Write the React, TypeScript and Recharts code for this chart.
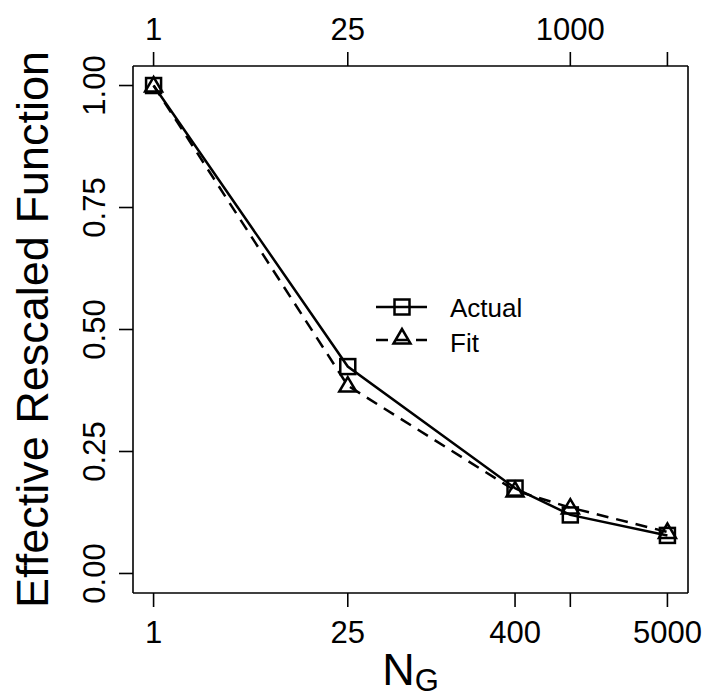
import React from 'react';
import { LineChart, Line, XAxis, YAxis, Legend } from 'recharts';

const nG = [1, 25, 400, 1000, 5000];
const actual = [1.0, 0.424, 0.175, 0.12, 0.078];
const fit = [1.0, 0.385, 0.17, 0.135, 0.085];

const bottomTicks = [1, 25, 400, 1000, 5000];
const bottomLabels = ['1', '25', '400', '', '5000'];
const topTicks = [1, 25, 1000, 5000];
const topLabels = ['1', '25', '1000', ''];
const yTicks = [0, 0.25, 0.5, 0.75, 1];
const yLabels = ['0.00', '0.25', '0.50', '0.75', '1.00'];

const xDomain = [0.711, 7032];
const yDomain = [-0.04, 1.04];

const data = nG.map((n, i) => ({ n, actual: actual[i], fit: fit[i] }));

const FONT = '"Liberation Sans", Arial, Helvetica, sans-serif';
const TICK_FS = 31;
const AXIS_W = 1.6;

const BottomTick = (props: any) => {
  const { x, y, payload } = props;
  const i = bottomTicks.indexOf(payload.value);
  const label = i >= 0 ? bottomLabels[i] : '';
  return (
    <text x={x} y={y + 34} textAnchor="middle" fontFamily={FONT} fontSize={TICK_FS} fill="#000">
      {label}
    </text>
  );
};

const TopTick = (props: any) => {
  const { x, y, payload } = props;
  const i = topTicks.indexOf(payload.value);
  const label = i >= 0 ? topLabels[i] : '';
  return (
    <text x={x} y={y - 10} textAnchor="middle" fontFamily={FONT} fontSize={TICK_FS} fill="#000">
      {label}
    </text>
  );
};

const LeftTick = (props: any) => {
  const { x, y, payload } = props;
  const i = yTicks.indexOf(payload.value);
  const label = i >= 0 ? yLabels[i] : '';
  return (
    <text
      x={0}
      y={0}
      transform={`translate(${x - 12},${y}) rotate(-90)`}
      textAnchor="middle"
      fontFamily={FONT}
      fontSize={TICK_FS}
      fill="#000"
    >
      {label}
    </text>
  );
};

const YTitle = (props: any) => {
  const vb = props.viewBox;
  const cx = vb.x + 48;
  const cy = vb.y + vb.height / 2;
  return (
    <text
      x={0}
      y={0}
      transform={`translate(${cx},${cy}) rotate(-90)`}
      textAnchor="middle"
      fontFamily={FONT}
      fontSize={45}
      fill="#000"
    >
      Effective Rescaled Function
    </text>
  );
};

const XTitle = (props: any) => {
  const vb = props.viewBox;
  const cx = vb.x + vb.width / 2;
  const cy = vb.y + 92;
  return (
    <text x={cx} y={cy} textAnchor="middle" fontFamily={FONT} fontSize={45} fill="#000">
      <tspan>N</tspan>
      <tspan dy={6} fontSize={31}>G</tspan>
    </text>
  );
};

const Square = (props: any) => {
  const { cx, cy, index } = props;
  if (cx == null || cy == null) return <g key={`s-${index}`} />;
  return (
    <rect
      key={`s-${index}`}
      x={cx - 7.5}
      y={cy - 7.5}
      width={15}
      height={15}
      fill="none"
      stroke="#000"
      strokeWidth={2.5}
    />
  );
};

const Triangle = (props: any) => {
  const { cx, cy, index } = props;
  if (cx == null || cy == null) return <g key={`t-${index}`} />;
  return (
    <polygon
      key={`t-${index}`}
      points={`${cx},${cy - 8.5} ${cx - 8.5},${cy + 6} ${cx + 8.5},${cy + 6}`}
      fill="none"
      stroke="#000"
      strokeWidth={2.5}
      strokeLinejoin="miter"
    />
  );
};

const seriesNames = ['Actual', 'Fit'];

const LegendBox = () => (
  <svg width={180} height={75} style={{ display: 'block' }}>
    <line x1={6} y1={22} x2={57} y2={22} stroke="#000" strokeWidth={2.5} />
    <rect x={24.5} y={14.5} width={15} height={15} fill="none" stroke="#000" strokeWidth={2.5} />
    <text x={80} y={32} fontFamily={FONT} fontSize={26} fill="#000">
      {seriesNames[0]}
    </text>
    <line x1={6} y1={55} x2={57} y2={55} stroke="#000" strokeWidth={2.5} strokeDasharray="12 8" />
    <polygon points="32,44 23.5,58.5 40.5,58.5" fill="none" stroke="#000" strokeWidth={2.5} />
    <text x={80} y={67} fontFamily={FONT} fontSize={26} fill="#000">
      {seriesNames[1]}
    </text>
  </svg>
);

export default function App() {
  return (
    <div style={{ position: 'absolute', left: 0, top: 0, width: 704, height: 700, background: '#fff' }}>
      <LineChart width={704} height={700} data={data} margin={{ top: 0, right: 0, bottom: 0, left: 0 }}>
        <XAxis
          xAxisId="bottom"
          dataKey="n"
          type="number"
          scale="log"
          domain={xDomain}
          allowDataOverflow
          ticks={bottomTicks}
          interval={0}
          height={107}
          tickSize={14}
          tickLine={{ stroke: '#000', strokeWidth: AXIS_W }}
          axisLine={{ stroke: '#000', strokeWidth: AXIS_W }}
          tick={<BottomTick />}
          label={<XTitle />}
        />
        <XAxis
          xAxisId="top"
          orientation="top"
          dataKey="n"
          type="number"
          scale="log"
          domain={xDomain}
          allowDataOverflow
          ticks={topTicks}
          interval={0}
          height={66}
          tickSize={14}
          tickLine={{ stroke: '#000', strokeWidth: AXIS_W }}
          axisLine={{ stroke: '#000', strokeWidth: AXIS_W }}
          tick={<TopTick />}
        />
        <YAxis
          yAxisId="left"
          type="number"
          domain={yDomain}
          allowDataOverflow
          ticks={yTicks}
          interval={0}
          width={133}
          tickSize={14}
          tickLine={{ stroke: '#000', strokeWidth: AXIS_W }}
          axisLine={{ stroke: '#000', strokeWidth: AXIS_W }}
          tick={<LeftTick />}
          label={<YTitle />}
        />
        <YAxis
          yAxisId="right"
          orientation="right"
          type="number"
          domain={yDomain}
          allowDataOverflow
          width={16}
          tick={false}
          tickLine={false}
          axisLine={{ stroke: '#000', strokeWidth: AXIS_W }}
        />
        <Legend
          layout="horizontal"
          verticalAlign="middle"
          align="center"
          content={<LegendBox />}
          wrapperStyle={{ position: 'absolute', left: 370, top: 285, width: 180, height: 75 }}
        />
        <Line
          xAxisId="bottom"
          yAxisId="left"
          type="linear"
          dataKey="actual"
          name="Actual"
          stroke="#000"
          strokeWidth={2.5}
          dot={(p: any) => <Square {...p} key={`sq-${p.index}`} />}
          activeDot={false}
          isAnimationActive={false}
        />
        <Line
          xAxisId="bottom"
          yAxisId="left"
          type="linear"
          dataKey="fit"
          name="Fit"
          stroke="#000"
          strokeWidth={2.5}
          strokeDasharray="12 8"
          dot={(p: any) => <Triangle {...p} key={`tr-${p.index}`} />}
          activeDot={false}
          isAnimationActive={false}
        />
      </LineChart>
    </div>
  );
}
